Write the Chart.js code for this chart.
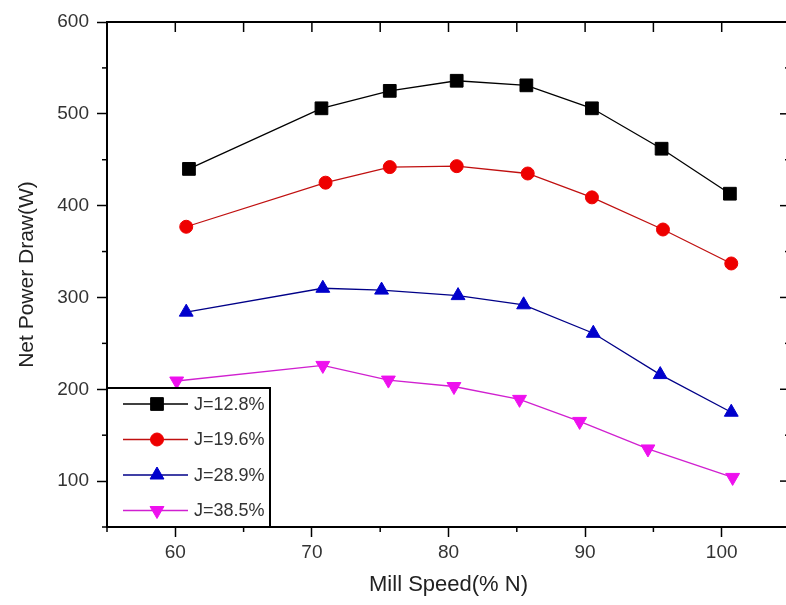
<!DOCTYPE html>
<html><head><meta charset="utf-8">
<script src="https://cdn.jsdelivr.net/npm/chart.js@4.4.1/dist/chart.umd.min.js"></script>
<style>
html,body{margin:0;padding:0;background:#fff;overflow:hidden;width:786px;height:605px}
#wrap{position:absolute;left:0;top:0;width:800px;height:605px}
canvas{display:block}
</style>
</head><body><div id="wrap"><canvas id="c" width="800" height="605"></canvas></div>
<script>
// ---- data ----
const seriesNames = ['J=12.8%', 'J=19.6%', 'J=28.9%', 'J=38.5%'];
const speedJ128 = [61.0, 70.7, 75.7, 80.6, 85.7, 90.5, 95.6, 100.6];
const powerJ128 = [440, 506, 525, 536, 531, 506, 462, 413];
const speedJ196 = [60.8, 71.0, 75.7, 80.6, 85.8, 90.5, 95.7, 100.7];
const powerJ196 = [377, 425, 442, 443, 435, 409, 374, 337];
const speedJ289 = [60.8, 70.8, 75.1, 80.7, 85.5, 90.6, 95.5, 100.7];
const powerJ289 = [284, 310, 308, 302, 292, 261, 216, 175];
const speedJ385 = [60.1, 70.8, 75.6, 80.4, 85.2, 89.6, 94.6, 100.8];
const powerJ385 = [209, 226, 210, 203, 189, 165, 135, 104];
const xTickLabels = [60, 70, 80, 90, 100];
const yTickLabels = [100, 200, 300, 400, 500, 600];

const FONT = "'Liberation Sans', Arial, Helvetica, sans-serif";
Chart.defaults.font.family = FONT;

function pts(xs, ys) { return xs.map((v, i) => ({ x: v, y: ys[i] })); }

const styles = [
  { line: '#000000', fill: '#000000', pointStyle: 'rect', radius: 9, rotation: 0 },
  { line: '#c01010', fill: '#ee0000', pointStyle: 'circle', radius: 6.5, rotation: 0 },
  { line: '#000088', fill: '#0000cc', pointStyle: 'triangle', radius: 8, rotation: 0 },
  { line: '#d020d0', fill: '#ee10ee', pointStyle: 'triangle', radius: 8, rotation: 180 }
];
const dataSets = [pts(speedJ128, powerJ128), pts(speedJ196, powerJ196), pts(speedJ289, powerJ289), pts(speedJ385, powerJ385)];

const datasets = dataSets.map((d, i) => ({
  label: seriesNames[i],
  data: d,
  borderColor: styles[i].line,
  backgroundColor: styles[i].fill,
  borderWidth: 1.3,
  pointStyle: styles[i].pointStyle,
  pointRadius: styles[i].radius,
  pointRotation: styles[i].rotation,
  pointBackgroundColor: styles[i].fill,
  pointBorderColor: styles[i].fill,
  pointBorderWidth: 1,
  tension: 0
}));

const framePlugin = {
  id: 'frame',
  afterDraw(chart) {
    const { ctx, chartArea: a, scales: { x, y } } = chart;
    ctx.save();
    const line = (x1, y1, x2, y2) => { ctx.beginPath(); ctx.moveTo(x1, y1); ctx.lineTo(x2, y2); ctx.stroke(); };
    ctx.strokeStyle = '#000';
    ctx.lineWidth = 2;
    line(a.left - 1, a.top, a.right + 1, a.top);
    line(a.right, a.top, a.right, a.bottom);
    ctx.lineWidth = 1.5;
    x.ticks.forEach(t => {
      const px = x.getPixelForValue(t.value);
      const major = xTickLabels.includes(t.value);
      line(px, a.top, px, a.top + 10);
      if (!major) line(px, a.bottom, px, a.bottom + 5);
    });
    y.ticks.forEach(t => {
      const py = y.getPixelForValue(t.value);
      const major = yTickLabels.includes(t.value);
      line(a.right, py, a.right - (major ? 10 : 5), py);
      if (!major) line(a.left, py, a.left - 5, py);
    });
    // legend box inside plot (lower-left)
    const bx = a.left, bw = 163, bh = 139, by = a.bottom - bh;
    ctx.fillStyle = '#fff';
    ctx.fillRect(bx, by, bw, bh);
    ctx.lineWidth = 2;
    ctx.strokeStyle = '#000';
    ctx.strokeRect(bx, by, bw, bh);
    ctx.font = '18px ' + FONT;
    ctx.textBaseline = 'middle';
    ctx.textAlign = 'left';
    datasets.forEach((ds, i) => {
      const ry = by + 16 + i * 35.5;
      ctx.strokeStyle = ds.borderColor;
      ctx.lineWidth = 1.3;
      line(bx + 16, ry, bx + 81, ry);
      ctx.fillStyle = ds.pointBackgroundColor;
      ctx.strokeStyle = ds.pointBorderColor;
      ctx.lineWidth = 1;
      Chart.helpers.drawPoint(ctx, { pointStyle: ds.pointStyle, radius: ds.pointRadius, rotation: ds.pointRotation, borderWidth: 1 }, bx + 50, ry);
      ctx.fillStyle = '#333';
      ctx.fillText(ds.label, bx + 87, ry + 1);
    });
    ctx.restore();
  }
};

new Chart(document.getElementById('c'), {
  type: 'line',
  data: { datasets },
  options: {
    responsive: false,
    animation: false,
    devicePixelRatio: 1,
    layout: { padding: { top: 22, right: 7, left: 0, bottom: 0 } },
    plugins: { legend: { display: false }, tooltip: { enabled: false } },
    scales: {
      x: {
        type: 'linear', min: 55, max: 105,
        ticks: {
          stepSize: 5, autoSkip: false, maxRotation: 0, color: '#333', padding: 4,
          font: { size: 19 },
          callback: v => xTickLabels.includes(v) ? String(v) : ''
        },
        grid: {
          display: true, drawOnChartArea: false, drawTicks: true, tickLength: 10, tickWidth: 1.5,
          tickColor: c => (c.tick && xTickLabels.includes(c.tick.value)) ? '#000' : 'rgba(0,0,0,0)'
        },
        border: { display: true, color: '#000', width: 2 },
        title: { display: true, text: 'Mill Speed(% N)', color: '#222', font: { size: 22 }, padding: { top: 0, bottom: 7 } },
        afterFit(s) { s.height = 78; }
      },
      y: {
        type: 'linear', min: 50, max: 600,
        ticks: {
          stepSize: 50, autoSkip: false, color: '#333', padding: 8,
          font: { size: 19 },
          callback: v => yTickLabels.includes(v) ? String(v) : ''
        },
        grid: {
          display: true, drawOnChartArea: false, drawTicks: true, tickLength: 10, tickWidth: 1.5,
          tickColor: c => (c.tick && yTickLabels.includes(c.tick.value)) ? '#000' : 'rgba(0,0,0,0)'
        },
        border: { display: true, color: '#000', width: 2 },
        title: { display: true, text: 'Net Power Draw(W)', color: '#222', font: { size: 21 }, padding: { top: 15, bottom: 0 } },
        afterFit(s) { s.width = 107; }
      }
    }
  },
  plugins: [framePlugin]
});
</script>
</body></html>
